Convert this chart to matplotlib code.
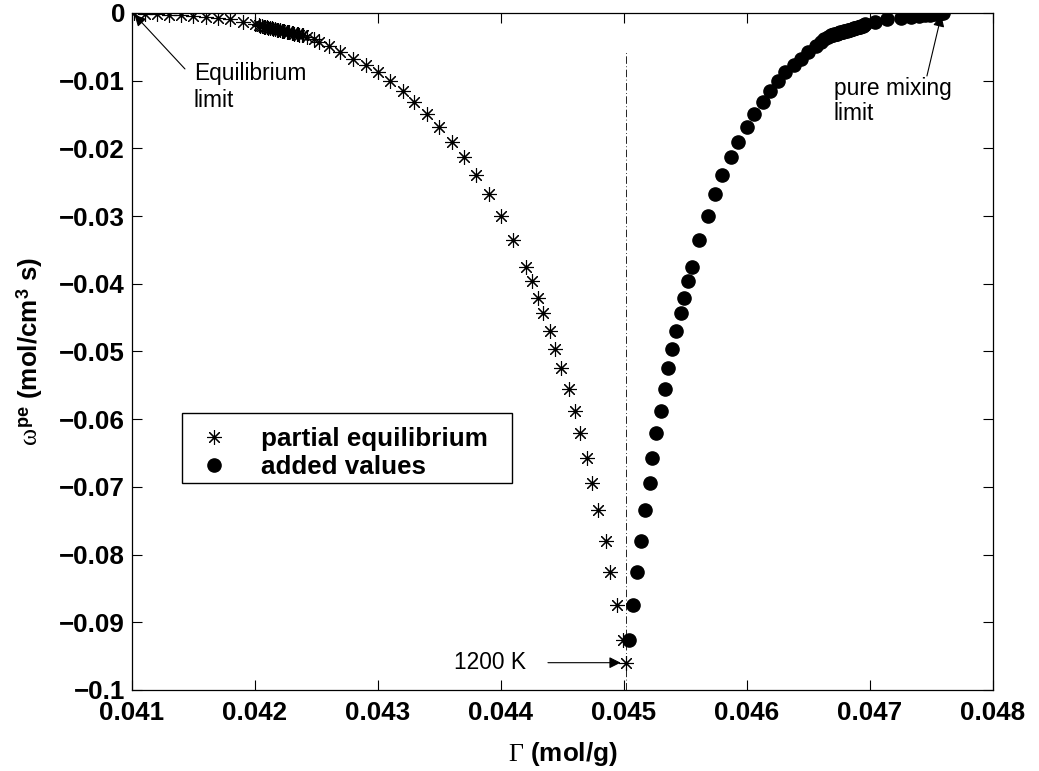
import numpy as np
import matplotlib
matplotlib.use("Agg")
import matplotlib.pyplot as plt
from matplotlib.patches import Rectangle

plt.rcParams['font.family'] = ['Liberation Sans', 'DejaVu Sans']
plt.rcParams['mathtext.fontset'] = 'custom'
plt.rcParams['mathtext.rm'] = 'Liberation Serif'
plt.rcParams['mathtext.it'] = 'Liberation Serif'
plt.rcParams['mathtext.bf'] = 'Liberation Sans:bold'

# ---- data ----
gamma_pe = [
    0.04102, 0.04111, 0.04120, 0.04130, 0.04140, 0.04150, 0.04160, 0.04170, 0.04180, 0.04190, 0.04200,
    0.04203, 0.04204, 0.04206, 0.04207, 0.04208, 0.04210, 0.04211, 0.04212, 0.04214, 0.04215,
    0.04216, 0.04218, 0.04219, 0.04220, 0.04222, 0.04223, 0.04224, 0.04226, 0.04227, 0.04228,
    0.04230, 0.04231, 0.04232, 0.04234, 0.04235, 0.04236, 0.04238, 0.04239,
    0.04242, 0.04248, 0.04252, 0.04260, 0.04269, 0.04280, 0.04290, 0.04300, 0.04310, 0.04320,
    0.04329, 0.04340, 0.04350, 0.04360, 0.04370, 0.04380, 0.04390, 0.04400, 0.04410, 0.04420,
    0.04425, 0.04430, 0.04434, 0.04440, 0.04444, 0.04449, 0.04455, 0.04460, 0.04464, 0.04470,
    0.04474, 0.04479, 0.04485, 0.04489, 0.04494, 0.04499, 0.04502,
]
omega_pe = [
    -0.00004, -0.00010, -0.00016, -0.00024, -0.00033, -0.00043, -0.00054, -0.00072, -0.00093, -0.00130, -0.00165,
    -0.00185, -0.00190, -0.00196, -0.00201, -0.00207, -0.00212, -0.00218, -0.00223, -0.00229, -0.00234,
    -0.00239, -0.00245, -0.00250, -0.00256, -0.00261, -0.00267, -0.00272, -0.00278, -0.00283, -0.00288,
    -0.00294, -0.00299, -0.00305, -0.00310, -0.00316, -0.00321, -0.00327, -0.00332,
    -0.00359, -0.00388, -0.00424, -0.00487, -0.00580, -0.00675, -0.00768, -0.00871, -0.01012, -0.01152,
    -0.01310, -0.01492, -0.01679, -0.01901, -0.02123, -0.02393, -0.02674, -0.02999, -0.03353, -0.03748,
    -0.03966, -0.04205, -0.04436, -0.04697, -0.04967, -0.05248, -0.05554, -0.05874, -0.06208, -0.06569,
    -0.06938, -0.07349, -0.07795, -0.08253, -0.08744, -0.09261, -0.09597,
]
gamma_added = [
    0.04759, 0.04756, 0.04753, 0.04749, 0.04745, 0.04740, 0.04733, 0.04725, 0.04714, 0.04704, 0.04696,
    0.04695, 0.04694, 0.04693, 0.04692, 0.04691, 0.04690, 0.04689, 0.04688, 0.04687, 0.04686,
    0.04685, 0.04684, 0.04683, 0.04682, 0.04681, 0.04680, 0.04679, 0.04678, 0.04677, 0.04676,
    0.04675, 0.04674, 0.04673, 0.04672, 0.04671, 0.04670, 0.04669, 0.04668,
    0.04666, 0.04663, 0.04660, 0.04656, 0.04650, 0.04644, 0.04638, 0.04631, 0.04625, 0.04619,
    0.04613, 0.04606, 0.04600, 0.04593, 0.04587, 0.04580, 0.04574, 0.04568, 0.04561, 0.04555,
    0.04552, 0.04549, 0.04546, 0.04542, 0.04539, 0.04536, 0.04533, 0.04530, 0.04526, 0.04523,
    0.04521, 0.04517, 0.04514, 0.04511, 0.04507, 0.04504,
]
omega_added = omega_pe[:-1]

xticks = [0.041, 0.042, 0.043, 0.044, 0.045, 0.046, 0.047, 0.048]
xticklabels = ['0.041', '0.042', '0.043', '0.044', '0.045', '0.046', '0.047', '0.048']
yticks = [0, -0.01, -0.02, -0.03, -0.04, -0.05, -0.06, -0.07, -0.08, -0.09, -0.1]
yticklabels = ['0', '\u22120.01', '\u22120.02', '\u22120.03', '\u22120.04', '\u22120.05',
               '\u22120.06', '\u22120.07', '\u22120.08', '\u22120.09', '\u22120.1']
T_label = '1200 K'
gamma_T = 0.04502

# ---- figure ----
fig = plt.figure(figsize=(10.39, 7.71), dpi=100)
ax = fig.add_axes([0.1270, 0.1051, 0.8287, 0.8781])

ax.plot(gamma_pe, omega_pe, linestyle='none', marker=(8, 2, 0), markersize=10.5,
        markeredgewidth=0.8, color='black', label='partial equilibrium', zorder=3)
ax.plot(gamma_added, omega_added, linestyle='none', marker='o', markersize=9.5,
        color='black', label='added values', zorder=3)

ax.vlines(gamma_T, -0.1, -0.0055, colors='black', linewidth=0.6,
          linestyles=[(0, (9, 3, 1, 3))], zorder=2)

ax.set_xlim(0.041, 0.048)
ax.set_ylim(-0.1, 0)
ax.set_xticks(xticks)
ax.set_xticklabels(xticklabels, fontsize=18.7, fontweight='bold')
ax.set_yticks(yticks)
ax.set_yticklabels(yticklabels, fontsize=18.7, fontweight='bold')
ax.tick_params(direction='in', length=7, width=0.8, top=True, right=True)
ax.tick_params(axis='x', pad=8)
ax.tick_params(axis='y', pad=5)
for s in ax.spines.values():
    s.set_linewidth(0.9)

ax.set_xlabel(r'$\Gamma$ (mol/g)', fontsize=18.7, fontweight='bold', labelpad=11)
ax.set_ylabel(r'$\omega^{\mathbf{pe}}$ (mol/cm$^{\mathbf{3}}$ s)', fontsize=18.7,
              fontweight='bold', labelpad=10)

# legend (frame drawn separately to match the wide MATLAB box)
leg = ax.legend(loc='upper left', bbox_to_anchor=(0.058, 0.409), borderaxespad=0,
                frameon=False, prop={'weight': 'bold', 'size': 18.7}, handlelength=1.4,
                handletextpad=1.1, borderpad=0.55, labelspacing=0.15)
ax.add_patch(Rectangle((0.0581, 0.3058), 0.3832, 0.1034, transform=ax.transAxes,
                       facecolor='none', edgecolor='black', linewidth=1.0, zorder=4))

arrowprops = dict(arrowstyle='-|>', color='black', lw=0.8, mutation_scale=17,
                  shrinkA=0, shrinkB=0)

# Equilibrium limit
ax.annotate('', xy=(gamma_pe[0], omega_pe[0] - 0.0002), xytext=(0.041431, -0.00827),
            arrowprops=arrowprops)
ax.text(0.041504, -0.0073, 'Equilibrium\nlimit', ha='left', va='top', fontsize=16.4,
        linespacing=1.2)

# pure mixing limit
ax.annotate('', xy=(gamma_added[0] - 0.00001, omega_added[0] - 0.0003), xytext=(0.047463, -0.00931),
            arrowprops=arrowprops)
ax.text(0.046707, -0.0094, 'pure mixing\nlimit', ha='left', va='top', fontsize=16.4,
        linespacing=1.15)

# 1200 K
ax.annotate('', xy=(0.044973, omega_pe[-1]), xytext=(0.044382, omega_pe[-1]),
            arrowprops=arrowprops)
ax.text(0.043618, omega_pe[-1], T_label, ha='left', va='center', fontsize=16.4)

fig.savefig('out.png', dpi=100)
